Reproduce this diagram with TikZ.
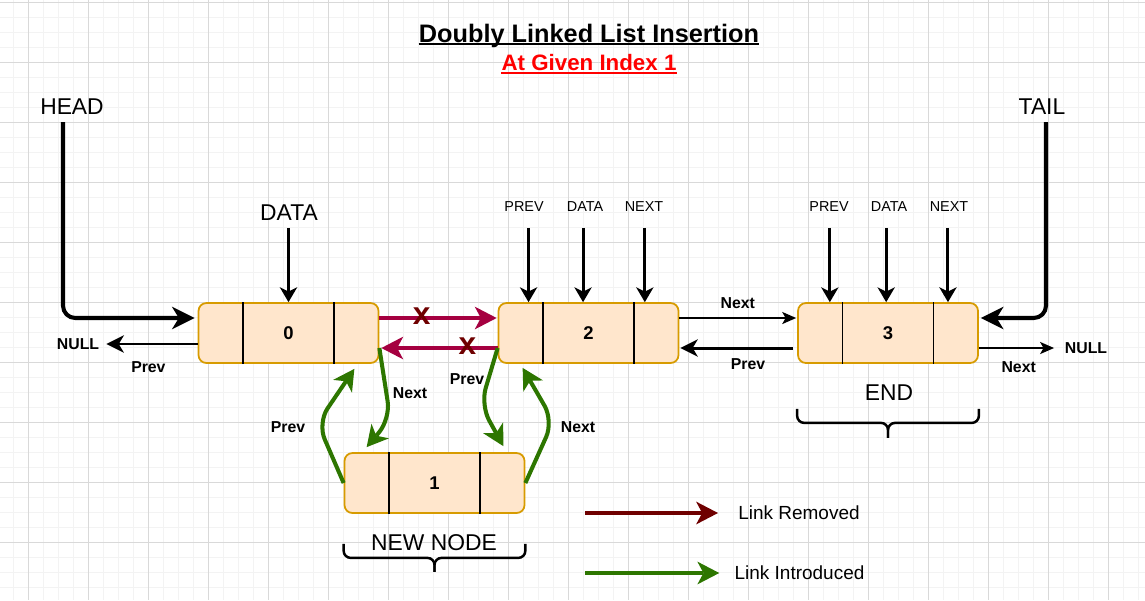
\documentclass[tikz,border=0pt]{standalone}
\usepackage{fontspec}
\setmainfont{Liberation Sans}
\usepackage{tikz}
\usetikzlibrary{arrows.meta,calc,positioning}
\definecolor{boxfill}{HTML}{FFE6CC}
\definecolor{boxline}{HTML}{D79B00}
\definecolor{cutred}{HTML}{A50040}
\definecolor{darkred}{HTML}{6F0000}
\definecolor{newgreen}{HTML}{2D7600}
\definecolor{minorgrid}{HTML}{F3F3F3}
\definecolor{majorgrid}{HTML}{D9D9D9}
\tikzset{
  listnode/.style={draw=boxline, fill=boxfill, line width=1pt, rounded corners=4.5pt,
    minimum width=3.6cm, minimum height=1.2cm, inner sep=0pt,
    font=\fontsize{10.5}{12}\selectfont\bfseries},
  biglabel/.style={inner sep=0pt, font=\fontsize{13}{15}\selectfont},
  smalllabel/.style={inner sep=0pt, font=\fontsize{8.2}{10}\selectfont},
  linklabel/.style={inner sep=0pt, font=\fontsize{9}{11}\selectfont\bfseries},
  legendlabel/.style={inner sep=0pt, font=\fontsize{10.8}{13}\selectfont},
  cutmark/.style={inner sep=0pt, text=darkred, font=\fontsize{18}{18}\selectfont\bfseries},
  pointer/.style={line width=2.3pt, rounded corners=7pt,
    -{Stealth[length=13pt, width=13pt, inset=4pt, line width=0pt]}},
  field/.style={line width=1.7pt, shorten <=#1,
    -{Stealth[length=8.5pt, width=10pt, inset=2.5pt, line width=0pt]}},
  thinarrow/.style={line width=0.9pt, -{Stealth[length=8pt, width=7pt, inset=2pt, line width=0pt]}},
  prevarrow/.style={line width=1.7pt, -{Stealth[length=10pt, width=10pt, inset=3pt, line width=0pt]}},
  nullarrow/.style={line width=1.2pt, -{Stealth[length=10pt, width=10pt, inset=3pt, line width=0pt]}},
  cutarrow/.style={cutred, line width=2pt, -{Stealth[length=12.5pt, width=13pt, inset=3.5pt, line width=0pt]}},
  newlink/.style={newgreen, line width=2.3pt, rounded corners=10pt,
    -{Stealth[length=12pt, width=13pt, inset=3.5pt, line width=0pt]}},
  legendarrow/.style={line width=2.3pt, -{Stealth[length=12.5pt, width=13pt, inset=3.5pt, line width=0pt]}},
  brace/.style={line width=1.4pt, rounded corners=4pt}
}
\begin{document}
\begin{tikzpicture}[x=0.02cm, y=-0.02cm]
\useasboundingbox (0,0) rectangle (1145,600);
%grid
\foreach \gx in {13,28,...,1138} \draw[minorgrid, line width=0.5pt] (\gx,0) -- (\gx,600);
\foreach \gy in {2,17,...,597} \draw[minorgrid, line width=0.5pt] (0,\gy) -- (1145,\gy);
\foreach \gx in {28,88,...,1108} \draw[majorgrid, line width=0.5pt] (\gx,0) -- (\gx,600);
\foreach \gy in {2,62,...,542} \draw[majorgrid, line width=0.5pt] (0,\gy) -- (1145,\gy);
%title
\node[anchor=base, inner sep=0pt, font=\fontsize{14.4}{17}\selectfont\bfseries] (title) at (589,42) {Doubly Linked List Insertion};
\draw[line width=1.3pt] ($(title.base west)+(0,2)$) -- ($(title.base east)+(0,2)$);
\node[anchor=base, inner sep=0pt, red, font=\fontsize{12.7}{15}\selectfont\bfseries] (subtitle) at (589,70) {At Given Index 1};
\draw[red, line width=1.2pt] ($(subtitle.base west)+(0,3)$) -- ($(subtitle.base east)+(0,3)$);
%list nodes
\node[listnode] (n0) at (288.5,333) {0};
\node[listnode] (n2) at (588.5,333) {2};
\node[listnode] (n3) at (888,333) {3};
\node[listnode] (n1) at (434.5,483) {1};
\foreach \n in {n0,n1,n2,n3}
  \foreach \f in {0.25,0.75}
    \draw[line width=0.8pt] ($(\n.north west)!\f!(\n.north east)$) -- ($(\n.south west)!\f!(\n.south east)$);
%field labels
\node[biglabel] (head) at (72,107) {HEAD};
\node[biglabel] (tail) at (1042,107) {TAIL};
\node[biglabel] (data0) at (289,213) {DATA};
\node[smalllabel] (prev2) at (524,207) {PREV};
\node[smalllabel] (data2) at (585,207) {DATA};
\node[smalllabel] (next2) at (644,207) {NEXT};
\node[smalllabel] (prev3) at (829,207) {PREV};
\node[smalllabel] (data3) at (889,207) {DATA};
\node[smalllabel] (next3) at (949,207) {NEXT};
\foreach \lbl/\n/\f/\s in {data0/n0/0.5/3.8pt, prev2/n2/0.17/8.9pt, data2/n2/0.47/8.9pt, next2/n2/0.81/8.9pt,
    prev3/n3/0.18/8.9pt, data3/n3/0.49/8.9pt, next3/n3/0.83/8.9pt}{
  \path ($(\n.north west)!\f!(\n.north east)$) coordinate (fieldtip);
  \draw[field=\s] (fieldtip |- \lbl.south) -- (fieldtip);
}
\draw[pointer] ($(head.south)+(-9,7)$) |- ($(n0.west)+(-3,-15)$);
\draw[pointer] ($(tail.south)+(4,7)$) |- ($(n3.east)+(2,-15)$);
%old links
\node[linklabel, inner sep=4pt] (nullL) at (78,344) {NULL};
\draw[nullarrow] ($(n0.west)+(0,11)$) -- node[linklabel, pos=0.54, below=9.7pt] (prev0) {Prev} (nullL.east);
\draw[cutarrow] ($(n0.east)+(0,-15)$) -- node[cutmark, pos=0.36, yshift=1pt] (cut1) {x} ($(n2.west)+(-1,-15)$);
\draw[cutarrow] ($(n2.west)+(0,15)$) -- node[cutmark, pos=0.26, yshift=1pt] (cut2) {x} ($(n0.east)+(2,15)$);
\draw[thinarrow] ($(n2.east)+(0,-15)$) -- node[linklabel, above=4.7pt] (next23) {Next} ($(n3.west)+(-1,-15)$);
\draw[prevarrow] ($(n3.west)+(-4,15)$) -- node[linklabel, pos=0.4, below=5.3pt] (prev32) {Prev} ($(n2.east)+(1,15)$);
\node[linklabel, inner sep=6pt] (nullR) at (1086,348) {NULL};
\draw[thinarrow] ($(n3.east)+(0,15)$) -- node[linklabel, pos=0.53, below=7.5pt] (next3n) {Next} (nullR.west);
%new links
\draw[newlink] ($(n0.east)+(0,15)$) -- ($(n0.south east)+(11,55)$) -- ($(n1.north west)+(23,-5)$);
\draw[newlink] (n1.west) -- ($(n1.west)+(-26,-60)$) -- ($(n0.south east)+(-25,5)$);
\draw[newlink] ($(n2.west)+(0,15)$) -- ($(n2.west)+(-17,72)$) -- ($(n1.north east)+(-22,-6)$);
\draw[newlink] (n1.east) -- ($(n1.east)+(28,-62)$) -- ($(n2.south west)+(25,4)$);
\node[linklabel] (next01) at (410,393) {Next};
\node[linklabel] (prev10) at (288,427) {Prev};
\node[linklabel] (prev21) at (467,379) {Prev};
\node[linklabel] (next12) at (578,427) {Next};
%braces
\node[biglabel] (endlbl) at (889,393) {END};
\draw[brace] ($(n3.south west)+(0,45)$) |- ($(n3.south)+(0,59)$) -- ($(n3.south)+(0,74)$);
\draw[brace] ($(n3.south east)+(0,45)$) |- ($(n3.south)+(0,59)$) -- ($(n3.south)+(0,74)$);
\node[biglabel] (newlbl) at (434,543) {NEW NODE};
\draw[brace] ($(n1.south west)+(0,30)$) |- ($(n1.south)+(0,44)$) -- ($(n1.south)+(0,58)$);
\draw[brace] ($(n1.south east)+(0,30)$) |- ($(n1.south)+(0,44)$) -- ($(n1.south)+(0,58)$);
%legend
\node[legendlabel] (lrem) at (799,513) {Link Removed};
\node[legendlabel] (lint) at (799.5,573) {Link Introduced};
\coordinate (lrem0) at (585,513);
\coordinate (lint0) at (585,573);
\draw[legendarrow, darkred] (lrem0) -- ($(lrem.west)+(-20,0)$);
\draw[legendarrow, newgreen] (lint0) -- ($(lint.west)+(-15,0)$);
\end{tikzpicture}
\end{document}
